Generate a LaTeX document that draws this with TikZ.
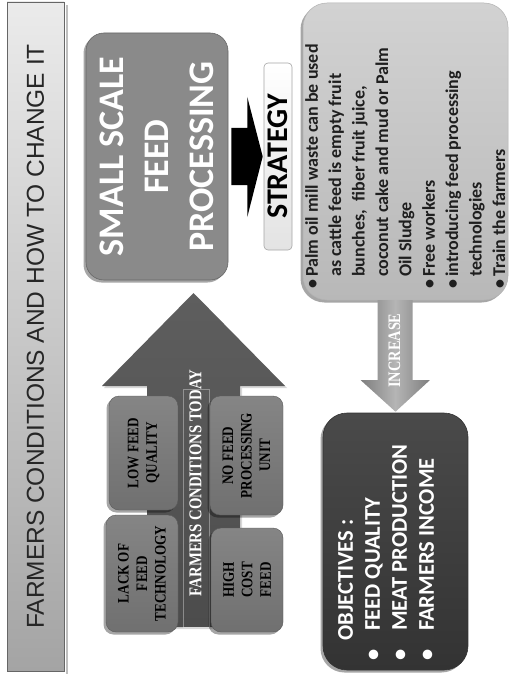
\documentclass[tikz,border=0pt]{standalone}
\usepackage{fontspec}
\setmainfont{Liberation Serif}
\newfontfamily\calfont{Carlito}
\newfontfamily\narrowserif[FakeStretch=0.82]{Liberation Serif}
\newfontfamily\titlefont{Liberation Sans}
\usetikzlibrary{shadows,calc}

\definecolor{titleA}{HTML}{EBEBEB}
\definecolor{titleB}{HTML}{A4A4A4}
\definecolor{ssfpgray}{HTML}{8A8A8A}
\definecolor{stratA}{HTML}{D2D2D2}
\definecolor{stratB}{HTML}{B8B8B8}
\definecolor{objA}{HTML}{4A4A4A}
\definecolor{objB}{HTML}{333333}
\definecolor{bigarrowA}{HTML}{5E5E5E}
\definecolor{bigarrowB}{HTML}{4C4C4C}
\definecolor{condA}{HTML}{858585}
\definecolor{condB}{HTML}{707070}
\definecolor{incA}{HTML}{B5B5B5}
\definecolor{incB}{HTML}{7E7E7E}

\newcommand\bul{\makebox[12pt][l]{•}}
\newcommand\hang{\hspace*{12pt}}
\newcommand\obul{\makebox[30pt][l]{•}}

\tikzset{
  % nodes below are turned a quarter turn, so the shadow shift is given in their own frame
  softshadow/.style={drop shadow={shadow xshift=-2.5pt, shadow yshift=-2.5pt, opacity=0.35, fill=black}},
  titlebar/.style={rotate=90, draw=gray!80!black, line width=0.6pt,
    top color=titleA, bottom color=titleB, inner sep=0pt,
    font=\titlefont\fontsize{24.5}{28}\selectfont, text=black!85},
  ssfpbox/.style={rotate=90, draw=ssfpgray!75!black, line width=0.6pt, fill=ssfpgray,
    rounded corners=18pt, inner sep=0pt, align=center, text=white,
    font=\calfont\bfseries\fontsize{36}{45}\selectfont, softshadow},
  labelbox/.style={rotate=90, draw=gray!70, line width=0.6pt, top color=white, bottom color=gray!22,
    rounded corners=4pt, inner sep=0pt, font=\calfont\bfseries\fontsize{30}{34}\selectfont},
  stratbox/.style={rotate=90, draw=gray!60, line width=0.5pt, top color=stratA, bottom color=stratB,
    rounded corners=24pt, inner sep=0pt, softshadow},
  stratcopy/.style={rotate=90, anchor=north west, inner sep=0pt, align=left, text=black!88,
    font=\calfont\bfseries\fontsize{18}{23.4}\selectfont},
  objbox/.style={rotate=90, draw=objB, line width=0.6pt, top color=objA, bottom color=objB,
    rounded corners=24pt, inner sep=0pt, softshadow},
  objcopy/.style={rotate=90, anchor=north west, inner sep=0pt, align=left, text=white,
    font=\calfont\bfseries\fontsize{22.5}{27}\selectfont},
  condbox/.style={rotate=90, draw=condB!80!black, line width=0.4pt, top color=condA, bottom color=condB,
    rounded corners=10pt, inner sep=0pt, align=center, text=black,
    font=\narrowserif\bfseries\fontsize{16}{18.5}\selectfont, softshadow},
  arrowtext/.style={rotate=90, inner sep=0pt, text=white,
    font=\narrowserif\bfseries\fontsize{18}{20}\selectfont},
}

\begin{document}
\begin{tikzpicture}[x=1pt, y=-1pt]
\useasboundingbox (0,0) rectangle (509,679);
\fill[white] (0,0) rectangle (509,679);

% heading bar
\fill[black, opacity=0.25] (66,5) rectangle (68,674);
\node[titlebar, minimum width=669, minimum height=57] (title) at (35.5,336.5)
  {FARMERS CONDITIONS AND HOW TO CHANGE IT};

% large up arrow carrying the present conditions
\coordinate (upTip)  at (193.5,293);
\coordinate (upBase) at (193.5,627);
\shade[top color=bigarrowA, bottom color=bigarrowB, drop shadow={shadow xshift=2pt, shadow yshift=-2pt, opacity=0.3}]
  (upBase) ++(-46.5,0) -- ++(0,-241) -- ++(-45,0) -- (upTip) -- ($(upBase)+(91.5,-241)$)
  -- ++(-45,0) -- ($(upBase)+(46.5,0)$) -- cycle;
\draw[white, opacity=0.35, line width=0.5pt] (183,389) rectangle (209,627);

\node[condbox, minimum width=114, minimum height=69] (lowq) at (143.5,453) {LOW FEED\\QUALITY};
\node[condbox, minimum width=117, minimum height=72] (lack) at (142,573.5) {LACK OF\\FEED\\TECHNOLOGY};
\node[condbox, minimum width=119, minimum height=73] (nounit) at (246.5,455.5) {NO FEED\\PROCESSING\\UNIT};
\node[condbox, minimum width=104, minimum height=72] (highcost) at (247,580) {HIGH\\COST\\FEED};
\node[arrowtext] (today) at (195.5,483) {FARMERS CONDITIONS TODAY};

% small scale feed processing
\node[ssfpbox, minimum width=247, minimum height=142] (ssfp) at (157,156.5)
  {SMALL SCALE\\FEED\\PROCESSING};

% black arrow to the strategy label
\node[labelbox, minimum width=187, minimum height=28] (strat) at (278,156.5) {STRATEGY};
\coordinate (blkStart) at ($(ssfp.south)+(3,0)$);
\coordinate (blkTip) at ($(strat.north)+(-1,0)$);
\fill[black] (blkStart) ++(0,-28.5) -- ++(16,0) -- ++(0,-31) -- (blkTip)
  -- ($(blkStart)+(16,60.5)$) -- ++(0,-32) -- ++(-16,0) -- cycle;

% strategy content
\node[stratbox, minimum width=297, minimum height=205] (stratlist) at (405.5,151.5) {};
\node[stratcopy] (stratcopy) at (305,289) {%
\bul Palm oil mill waste can be used\\
\hang as cattle feed is empty fruit\\
\hang bunches,\ \ fiber fruit juice,\\
\hang coconut cake and mud or Palm\\
\hang Oil Sludge\\
\bul Free workers\\
\bul introducing feed processing\\
\hang technologies\\
\bul Train the farmers};

% objectives
\node[objbox, minimum width=257, minimum height=145] (obj) at (395.5,541.5) {};
\node[objcopy] (objcopy) at (338,661) {%
\hspace*{20pt}OBJECTIVES :\\
\obul FEED QUALITY\\
\obul MEAT PRODUCTION\\
\obul FARMERS INCOME};

% increase arrow from strategy down to objectives
\coordinate (incTop) at (395,300);
\coordinate (incTip) at ($(obj.east)+(0,-1)$);
\shade[left color=incB, right color=incB, middle color=incA]
  (incTop) ++(-17.5,0) -- ++(0,80) -- ++(-17,0) -- (incTip) -- ($(incTop)+(35,80)$)
  -- ++(-17.5,0) -- ++(0,-80) -- cycle;
\node[arrowtext, font=\narrowserif\bfseries\fontsize{17.5}{20}\selectfont] (inc) at (394.5,350.5) {INCREASE};
\end{tikzpicture}
\end{document}
